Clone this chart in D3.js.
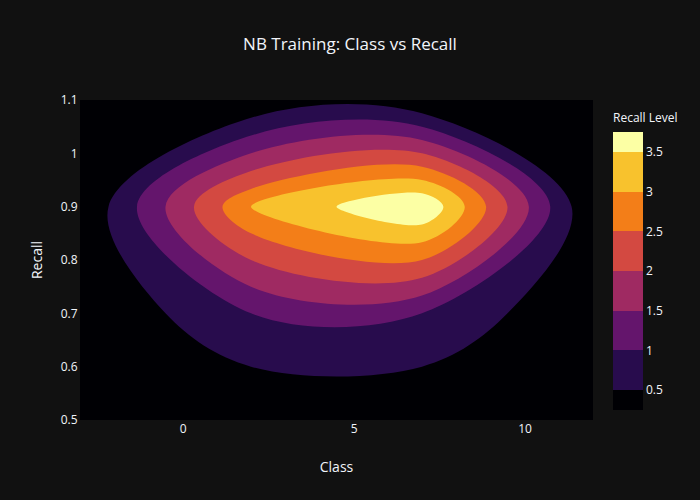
<!DOCTYPE html>
<html><head><meta charset="utf-8">
<script src="https://cdn.jsdelivr.net/npm/d3@7"></script>
<style>
body{margin:0;background:#111111;}
svg{display:block;font-family:"Open Sans","Noto Sans",sans-serif;}
</style>
</head><body>
<svg id="chart" width="700" height="500"></svg>
<script>
// ---------------- data ----------------
const xBinCenters = [-3, 2, 7, 12];          // Class bin centers (outer bins are empty padding)
const yBinCenters = [0.5, 0.7, 0.9, 1.1];    // Recall bin centers
const countsRecall050 = [0, 0, 0, 0];
const countsRecall070 = [0, 1, 1, 0];
const countsRecall090 = [0, 3, 4, 0];
const countsRecall110 = [0, 0, 0, 0];
const contourLevels = [0.5, 1, 1.5, 2, 2.5, 3, 3.5];
const xTickValues = [0, 5, 10];
const yTickValues = [0.5, 0.6, 0.7, 0.8, 0.9, 1, 1.1];
const colorbarTickValues = [0.5, 1, 1.5, 2, 2.5, 3, 3.5];
const infernoStops = ['#000004','#1b0c41','#4a0c6b','#781c6d','#a52c60','#cf4446','#ed6925','#fb9b06','#f7d13d','#fcffa4'];

// ---------------- layout ----------------
const W = 700, H = 500;
const plot = {left: 80, right: 593, top: 100, bottom: 420};
const textColor = '#f2f5fa';
const svg = d3.select('#chart');
svg.append('rect').attr('width', W).attr('height', H).attr('fill', '#111111');

const x = d3.scaleLinear().domain([-3, 12]).range([plot.left, plot.right]);
const y = d3.scaleLinear().domain([0.5, 1.1]).range([plot.bottom, plot.top]);

const infernoScale = d3.scaleLinear()
  .domain(infernoStops.map((c, i) => i / (infernoStops.length - 1)))
  .range(infernoStops).interpolate(d3.interpolateRgb);
const nBands = contourLevels.length + 1;
const bandColor = k => infernoScale(k / (nBands - 1));

// ---------------- contours ----------------
const rows = [countsRecall050, countsRecall070, countsRecall090, countsRecall110];
const nx = xBinCenters.length, ny = yBinCenters.length;
const values = [].concat(...rows);
const gx = d3.scaleLinear().domain([0.5, nx - 0.5]).range([xBinCenters[0], xBinCenters[nx - 1]]);
const gy = d3.scaleLinear().domain([0.5, ny - 0.5]).range([yBinCenters[0], yBinCenters[ny - 1]]);

const contourSets = d3.contours().size([nx, ny]).thresholds(contourLevels)(values);

const clip = svg.append('defs').append('clipPath').attr('id', 'plotclip');
clip.append('rect').attr('x', plot.left).attr('y', plot.top)
  .attr('width', plot.right - plot.left).attr('height', plot.bottom - plot.top);

const gPlot = svg.append('g').attr('clip-path', 'url(#plotclip)');
gPlot.append('rect').attr('x', plot.left).attr('y', plot.top)
  .attr('width', plot.right - plot.left).attr('height', plot.bottom - plot.top)
  .attr('fill', bandColor(0));

const ringLine = d3.line().curve(d3.curveCatmullRomClosed.alpha(0.5));
function ringPath(ring) {
  let pts = ring.map(p => [x(gx(p[0])), y(gy(p[1]))]);
  pts = pts.slice(0, pts.length - 1);
  const out = [];
  pts.forEach(p => {
    const last = out[out.length - 1];
    if (!last || Math.hypot(p[0] - last[0], p[1] - last[1]) > 0.5) out.push(p);
  });
  if (out.length > 1) {
    const f = out[0], l = out[out.length - 1];
    if (Math.hypot(f[0] - l[0], f[1] - l[1]) <= 0.5) out.pop();
  }
  return ringLine(out);
}

contourSets.forEach((c, i) => {
  const d = c.coordinates.map(poly => poly.map(ringPath).join('')).join('');
  if (!d) return;
  gPlot.append('path').attr('d', d).attr('fill', bandColor(i + 1))
    .attr('fill-rule', 'evenodd').attr('stroke', 'none');
});

// ---------------- axes ----------------
const xAxis = svg.append('g').attr('transform', `translate(0,${plot.bottom})`)
  .call(d3.axisBottom(x).tickValues(xTickValues).tickSize(0).tickPadding(4.5).tickFormat(d3.format('~g')));
const yAxis = svg.append('g').attr('transform', `translate(${plot.left},0)`)
  .call(d3.axisLeft(y).tickValues(yTickValues).tickSize(0).tickPadding(2.5).tickFormat(d3.format('~g')));
[xAxis, yAxis].forEach(a => {
  a.select('.domain').remove();
  a.selectAll('text').attr('fill', textColor).style('font-size', '12px')
    .style('font-family', '"Open Sans","Noto Sans",sans-serif');
});

// ---------------- titles ----------------
svg.append('text').attr('x', 350).attr('y', 50).attr('text-anchor', 'middle')
  .attr('fill', textColor).style('font-size', '17px').text('NB Training: Class vs Recall');
svg.append('text').attr('x', (plot.left + plot.right) / 2).attr('y', 472).attr('text-anchor', 'middle')
  .attr('fill', textColor).style('font-size', '14px').text('Class');
svg.append('text').attr('transform', `translate(37,${(plot.top + plot.bottom) / 2}) rotate(-90)`)
  .attr('text-anchor', 'middle').attr('dy', '0.35em')
  .attr('fill', textColor).style('font-size', '14px').text('Recall');

// ---------------- colorbar ----------------
const cb = {x: 613, w: 30, top: 132, bottom: 410};
const step = contourLevels[1] - contourLevels[0];
const cbLo = contourLevels[0] - step / 2, cbHi = contourLevels[contourLevels.length - 1] + step / 2;
const cbY = d3.scaleLinear().domain([cbLo, cbHi]).range([cb.bottom, cb.top]);
const bandEdges = [cbLo, ...contourLevels, cbHi];
const gCb = svg.append('g');
d3.range(nBands).forEach(k => {
  const lo = bandEdges[k], hi = bandEdges[k + 1];
  gCb.append('rect').attr('x', cb.x).attr('width', cb.w)
    .attr('y', cbY(hi)).attr('height', cbY(lo) - cbY(hi))
    .attr('fill', bandColor(k)).attr('shape-rendering', 'crispEdges');
});
const cbAxis = svg.append('g').attr('transform', `translate(${cb.x + cb.w},0)`)
  .call(d3.axisRight(cbY).tickValues(colorbarTickValues).tickSize(0).tickPadding(3).tickFormat(d3.format('~g')));
cbAxis.select('.domain').remove();
cbAxis.selectAll('text').attr('fill', textColor).style('font-size', '12px')
  .style('font-family', '"Open Sans","Noto Sans",sans-serif');
svg.append('text').attr('x', cb.x).attr('y', 122).attr('fill', textColor)
  .style('font-size', '12px').text('Recall Level');
</script>
</body></html>
